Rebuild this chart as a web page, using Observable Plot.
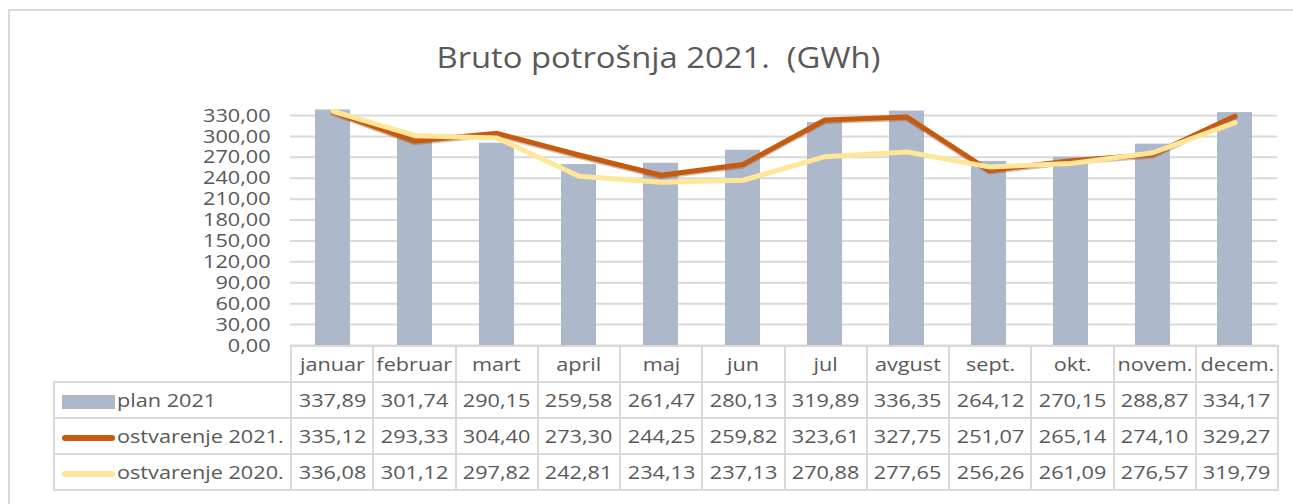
<!DOCTYPE html>
<html>
<head>
<meta charset="utf-8">
<script src="https://cdn.jsdelivr.net/npm/d3@7"></script>
<script src="https://cdn.jsdelivr.net/npm/@observablehq/plot@0.6"></script>
<style>
  html, body { margin: 0; padding: 0; background: #fff; overflow: hidden; }
  #wrap { position: relative; width: 1293px; height: 504px; overflow: hidden; font-family: 'Open Sans', sans-serif; color: #595959; }
  #frame { position: absolute; left: 8px; top: 9px; width: 1400px; height: 600px; border: 2px solid #D9D9D9; box-sizing: border-box; }
  #title { position: absolute; left: 0; width: 1316px; top: 42px; text-align: center; font-size: 29px; line-height: 29px; color: #595959; white-space: pre; }
  #title span { display: inline-block; transform: scaleX(1.13); transform-origin: center; }
  #chart { position: absolute; left: 0; top: 0; }
  #tbl { position: absolute; left: 53px; top: 345px; border-collapse: collapse; table-layout: fixed; font-size: 19px; color: #595959; }
  #tbl td { border: 2px solid #D9D9D9; height: 34px; padding: 0; text-align: center; white-space: nowrap; overflow: hidden; }
  #tbl td.lab { text-align: left; overflow: visible; }
  #tbl td.corner { border-top: none; border-left: none; }
  .s { display: inline-block; transform: scaleX(1.14); transform-origin: center; }
  .lab .s { transform-origin: left center; }
  .key { display: inline-block; vertical-align: middle; margin-left: 7px; margin-right: 2px; }
</style>
</head>
<body>
<div id="wrap">
  <div id="frame"></div>
  <div id="title"></div>
  <div id="chart"></div>
  <table id="tbl"></table>
</div>
<script>
const title = "Bruto potrošnja 2021.  (GWh)";
const months = ["januar","februar","mart","april","maj","jun","jul","avgust","sept.","okt.","novem.","decem."];
const plan2021 = [337.89,301.74,290.15,259.58,261.47,280.13,319.89,336.35,264.12,270.15,288.87,334.17];
const ostvarenje2021 = [335.12,293.33,304.40,273.30,244.25,259.82,323.61,327.75,251.07,265.14,274.10,329.27];
const ostvarenje2020 = [336.08,301.12,297.82,242.81,234.13,237.13,270.88,277.65,256.26,261.09,276.57,319.79];
const seriesNames = ["plan 2021","ostvarenje 2021.","ostvarenje 2020."];
const seriesColors = ["#ADB9CA","#C55A11","#FFE699"];
const yTicks = [0,30,60,90,120,150,180,210,240,270,300,330];

const fmt = v => v.toFixed(2).replace(".", ",");
const toRows = arr => months.map((m, i) => ({month: m, value: arr[i]}));
const planData = toRows(plan2021);
const o21 = toRows(ostvarenje2021);
const o20 = toRows(ostvarenje2020);

const tspan = document.createElement("span");
tspan.textContent = title;
document.getElementById("title").appendChild(tspan);

const chart = Plot.plot({
  width: 1293,
  height: 350,
  marginLeft: 290,
  marginRight: 16,
  marginTop: 115,
  marginBottom: 5,
  style: {fontFamily: "'Open Sans', sans-serif", fontSize: "19px", color: "#595959", background: "transparent", overflow: "visible"},
  x: {domain: months, type: "band", paddingInner: 0.575, paddingOuter: 0.2875, axis: null},
  y: {domain: [0, 330], ticks: yTicks, tickFormat: fmt, tickSize: 0, tickPadding: 20, label: null},
  marks: [
    Plot.ruleY(yTicks, {stroke: "#D9D9D9", strokeWidth: 2}),
    Plot.barY(planData, {x: "month", y: "value", fill: seriesColors[0]}),
    Plot.line(o21, {x: "month", y: "value", stroke: "#8E3F0B", strokeOpacity: 0.35, strokeWidth: 5, dy: 1.5, strokeLinejoin: "round", strokeLinecap: "round"}),
    Plot.line(o21, {x: "month", y: "value", stroke: seriesColors[1], strokeWidth: 5, strokeLinejoin: "round", strokeLinecap: "round"}),
    Plot.line(o20, {x: "month", y: "value", stroke: seriesColors[2], strokeWidth: 5, strokeLinejoin: "round", strokeLinecap: "round"})
  ]
});
document.getElementById("chart").appendChild(chart);

// widen the y tick labels horizontally (anchored at their right edge)
const axisGroups = Array.from(chart.querySelectorAll('g[aria-label^="y-axis"]'))
  .filter(g => g.querySelector("text") && !g.parentNode.closest('g[aria-label^="y-axis"]'));
axisGroups.forEach(g => {
  const w = document.createElementNS("http://www.w3.org/2000/svg", "g");
  w.setAttribute("transform", "translate(270,0) scale(1.14,1) translate(-270,0)");
  g.parentNode.insertBefore(w, g);
  w.appendChild(g);
});

// data table
const tbl = document.getElementById("tbl");
const colgroup = document.createElement("colgroup");
const c0 = document.createElement("col"); c0.style.width = "237px"; colgroup.appendChild(c0);
months.forEach(() => { const c = document.createElement("col"); c.style.width = "82.25px"; colgroup.appendChild(c); });
tbl.appendChild(colgroup);
const cellText = (td, t) => { const s = document.createElement("span"); s.className = "s"; s.textContent = t; td.appendChild(s); };
const hr = document.createElement("tr");
const corner = document.createElement("td"); corner.className = "corner"; hr.appendChild(corner);
months.forEach(m => { const td = document.createElement("td"); cellText(td, m); hr.appendChild(td); });
tbl.appendChild(hr);
[plan2021, ostvarenje2021, ostvarenje2020].forEach((arr, k) => {
  const tr = document.createElement("tr");
  const lab = document.createElement("td"); lab.className = "lab";
  const key = document.createElement("span"); key.className = "key";
  key.style.width = "53px";
  if (k === 0) { key.style.height = "14px"; key.style.background = seriesColors[0]; }
  else { key.style.height = "6px"; key.style.borderRadius = "3px"; key.style.background = seriesColors[k]; }
  lab.appendChild(key);
  cellText(lab, seriesNames[k]);
  tr.appendChild(lab);
  arr.forEach(v => { const td = document.createElement("td"); cellText(td, fmt(v)); tr.appendChild(td); });
  tbl.appendChild(tr);
});
</script>
</body>
</html>
